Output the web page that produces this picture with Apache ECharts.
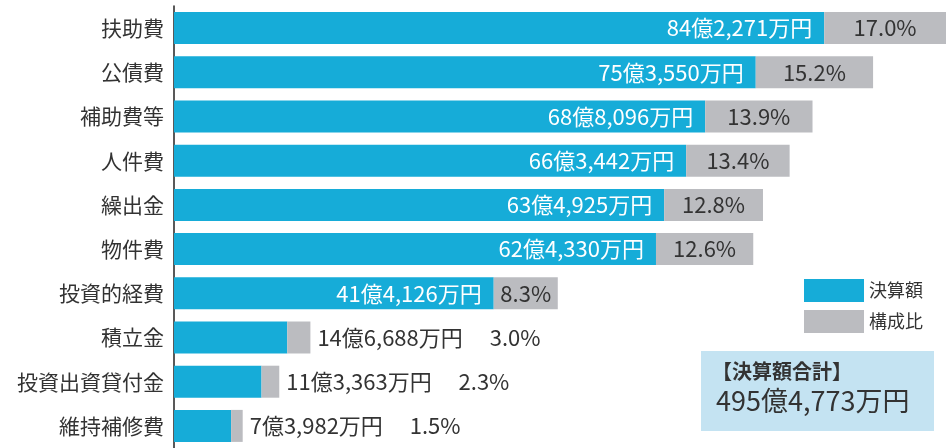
<!DOCTYPE html>
<html>
<head>
    <meta charset="utf-8">
    <title>決算額</title>
    <script src="https://cdn.jsdelivr.net/npm/echarts@6/dist/echarts.min.js"></script>
    <style>
        html, body { margin: 0; padding: 0; background: #fff; }
        #chart1 { width: 946px; height: 448px; }
    </style>
</head>
<body>
<div id="chart1"></div>
<script type="text/javascript">
    // 項目
    var categories = ['扶助費', '公債費', '補助費等', '人件費', '繰出金', '物件費', '投資的経費', '積立金', '投資出資貸付金', '維持補修費'];
    // 決算額（万円）
    var amounts = [842271, 753550, 688096, 663442, 634925, 624330, 414126, 146688, 113363, 73982];
    // 構成比（%）
    var ratios = [17.0, 15.2, 13.9, 13.4, 12.8, 12.6, 8.3, 3.0, 2.3, 1.5];
    // 決算額合計（万円）
    var totalAmount = 4954773;
    // 棒の中に入りきらない項目の数（下から）
    var outsideCount = 3;

    var font = '"Noto Sans CJK JP", "Noto Sans", sans-serif';

    function fmtYen(v) {
        var oku = Math.floor(v / 10000);
        var man = v % 10000;
        return oku + '億' + man.toLocaleString('en-US') + '万円';
    }

    var blueData = amounts.map(function (v, i) {
        var item = {value: v / 10000};
        if (i >= categories.length - outsideCount) {
            item.label = {show: false};
        }
        return item;
    });
    var grayData = ratios.map(function (v, i) {
        var item = {value: v};
        if (i >= categories.length - outsideCount) {
            item.label = {
                position: 'right',
                distance: 7,
                formatter: fmtYen(amounts[i]) + '\u3000 ' + v.toFixed(1) + '%'
            };
        }
        return item;
    });

    var myChart1 = echarts.init(document.getElementById('chart1'), null, {renderer: 'canvas'});
    myChart1.setOption({
        animation: false,
        textStyle: {fontFamily: font},
        grid: {left: 174, right: 0, top: 6, height: 443, containLabel: false},
        legend: {
            orient: 'vertical',
            left: 804,
            top: 279,
            padding: 0,
            itemWidth: 60,
            itemHeight: 23,
            itemGap: 8,
            icon: 'rect',
            textStyle: {fontSize: 18, color: '#333', fontFamily: font},
            data: ['決算額', '構成比']
        },
        xAxis: {
            type: 'value',
            min: 0,
            max: 100,
            show: false
        },
        yAxis: {
            type: 'category',
            inverse: true,
            data: categories,
            axisLine: {lineStyle: {color: '#222', width: 1.5}},
            axisTick: {show: false},
            axisLabel: {fontSize: 21, color: '#333', margin: 10, fontFamily: font}
        },
        series: [{
            name: '決算額',
            type: 'bar',
            stack: 'total',
            barWidth: 32,
            itemStyle: {color: '#16acd8'},
            label: {
                show: true,
                position: 'insideRight',
                distance: 12,
                color: '#fff',
                fontSize: 22,
                fontFamily: font,
                formatter: function (p) {
                    return fmtYen(amounts[p.dataIndex]);
                }
            },
            data: blueData
        }, {
            name: '構成比',
            type: 'bar',
            stack: 'total',
            barWidth: 32,
            itemStyle: {color: '#bbbcc0'},
            label: {
                show: true,
                position: 'inside',
                color: '#333',
                fontSize: 22,
                fontFamily: font,
                formatter: function (p) {
                    return p.value.toFixed(1) + '%';
                }
            },
            data: grayData
        }],
        graphic: [{
            type: 'rect',
            shape: {x: 701, y: 351, width: 233, height: 80},
            style: {fill: '#c4e3f2'}
        }, {
            type: 'text',
            x: 712,
            y: 361,
            style: {text: '【決算額合計】', fill: '#333', font: 'bold 20px ' + font}
        }, {
            type: 'text',
            x: 716,
            y: 387,
            style: {text: fmtYen(totalAmount), fill: '#333', font: '27px ' + font}
        }]
    });
</script>
</body>
</html>
